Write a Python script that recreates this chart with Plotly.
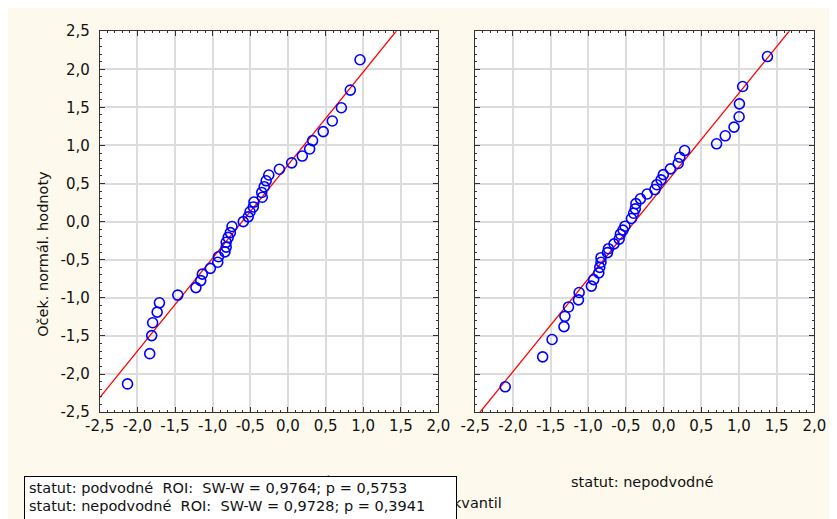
import plotly.graph_objects as go

# ---------------- data ----------------
left_obs = [0.958, 0.829, 0.710, 0.590, 0.469, 0.328, 0.289, 0.191, 0.050, -0.113,
            -0.254, -0.289, -0.315, -0.348, -0.341, -0.451, -0.460, -0.503, -0.528, -0.593,
            -0.743, -0.765, -0.794, -0.820, -0.820, -0.837, -0.923, -0.932, -1.030, -1.137,
            -1.158, -1.222, -1.463, -1.707, -1.737, -1.797, -1.810, -1.836, -2.131]
left_exp = [2.125, 1.727, 1.495, 1.321, 1.182, 1.064, 0.954, 0.861, 0.772, 0.688,
            0.612, 0.536, 0.459, 0.383, 0.320, 0.257, 0.193, 0.130, 0.063, 0.000,
            -0.064, -0.144, -0.207, -0.271, -0.334, -0.397, -0.461, -0.533, -0.613, -0.689,
            -0.774, -0.866, -0.964, -1.065, -1.188, -1.327, -1.496, -1.733, -2.130]

right_obs = [1.378, 1.049, 1.006, 1.002, 0.934, 0.818, 0.703, 0.279, 0.215, 0.193,
             0.090, -0.004, -0.034, -0.090, -0.115, -0.218, -0.308, -0.368, -0.376, -0.398,
             -0.427, -0.513, -0.539, -0.574, -0.590, -0.658, -0.732, -0.745, -0.831, -0.831,
             -0.847, -0.860, -0.928, -0.959, -1.121, -1.130, -1.262, -1.310, -1.322, -1.480,
             -1.605, -2.102]
right_exp = [2.167, 1.774, 1.546, 1.377, 1.241, 1.127, 1.022, 0.933, 0.845, 0.764,
             0.693, 0.617, 0.548, 0.485, 0.421, 0.363, 0.300, 0.236, 0.168, 0.110,
             0.041, -0.060, -0.111, -0.165, -0.229, -0.292, -0.355, -0.406, -0.473, -0.533,
             -0.600, -0.672, -0.761, -0.846, -0.930, -1.027, -1.120, -1.243, -1.378, -1.547,
             -1.775, -2.168]

# fitted reference lines: expected = intercept + slope * observed
left_fit = {"intercept": 0.743, "slope": 1.221}
right_fit = {"intercept": 0.469, "slope": 1.219}

tick_vals = [-2.5, -2.0, -1.5, -1.0, -0.5, 0.0, 0.5, 1.0, 1.5, 2.0, 2.5]
tick_text = ["-2,5", "-2,0", "-1,5", "-1,0", "-0,5", "0,0", "0,5", "1,0", "1,5", "2,0", "2,5"]
x_range = [-2.5, 2.0]
y_range = [-2.5, 2.5]

panel_titles = ["statut: podvodné", "statut: nepodvodné"]
x_title = "Pozorovaný kvantil"
y_title = "Oček. normál. hodnoty"
stats_lines = ["statut: podvodné  ROI:  SW-W = 0,9764; p = 0,5753",
               "statut: nepodvodné  ROI:  SW-W = 0,9728; p = 0,3941"]

# ---------------- layout helpers ----------------
W, H = 837, 519
FONT = "DejaVu Sans"
FS = 14.5
TFS = 15


def fx(p):
    return p / W


def fy(p):
    return 1 - p / H


fig = go.Figure()

marker = dict(symbol="circle-open", size=10, color="#0000FF", line=dict(width=1.6, color="#0000FF"))

for obs, exp, fit, xa, ya in [(left_obs, left_exp, left_fit, "x", "y"),
                              (right_obs, right_exp, right_fit, "x2", "y2")]:
    fig.add_trace(go.Scatter(x=x_range, y=[fit["intercept"] + fit["slope"] * v for v in x_range],
                             mode="lines", line=dict(color="#FF0000", width=1.3),
                             xaxis=xa, yaxis=ya, showlegend=False, hoverinfo="skip"))
    fig.add_trace(go.Scatter(x=obs, y=exp, mode="markers", marker=marker,
                             xaxis=xa, yaxis=ya, showlegend=False, cliponaxis=False))

axis_common = dict(
    tickmode="array", tickvals=tick_vals, ticktext=tick_text,
    showgrid=True, gridcolor="#DCDCDC", gridwidth=1.5, zeroline=False,
    showline=True, linecolor="#333333", linewidth=1, mirror="allticks",
    ticks="inside", ticklen=5, tickcolor="#333333", tickwidth=1,
    minor=dict(dtick=0.1, tick0=0, ticks="inside", ticklen=2, tickcolor="#333333", showgrid=False),
    tickfont=dict(family=FONT, size=TFS, color="#111111"),
    fixedrange=True,
)

ydom = [fy(409.3), fy(14.7)]
fig.update_layout(
    width=W, height=H,
    margin=dict(l=0, r=0, t=0, b=0),
    paper_bgcolor="#FDF9EC",
    plot_bgcolor="#FFFFFF",
    showlegend=False,
    font=dict(family=FONT, size=FS, color="#111111"),
    xaxis=dict(axis_common, domain=[fx(79.3), fx(429.3)], range=x_range, anchor="y"),
    yaxis=dict(axis_common, domain=ydom, range=y_range, anchor="x", ticklabelstandoff=6),
    xaxis2=dict(axis_common, domain=[fx(467.3), fx(817.7)], range=x_range, anchor="y2"),
    yaxis2=dict(axis_common, domain=ydom, range=y_range, anchor="x2", showticklabels=False),
)

ann = []
# panel titles (the left one sits behind the statistics box, as in the original)
ann.append(dict(x=fx(254), y=fy(482), xref="paper", yref="paper", text=panel_titles[0],
                showarrow=False, xanchor="center", yanchor="middle", font=dict(family=FONT, size=FS)))
ann.append(dict(x=fx(640), y=fy(482), xref="paper", yref="paper", text=panel_titles[1],
                showarrow=False, xanchor="center", yanchor="middle", font=dict(family=FONT, size=FS)))
# x axis title (partly covered by the statistics box, as in the original)
ann.append(dict(x=fx(424), y=fy(503), xref="paper", yref="paper", text=x_title,
                showarrow=False, xanchor="center", yanchor="middle", font=dict(family=FONT, size=FS)))
# y axis title
ann.append(dict(x=fx(20), y=fy(245), xref="paper", yref="paper", text=y_title, textangle=-90,
                showarrow=False, xanchor="center", yanchor="middle", font=dict(family=FONT, size=FS)))
# statistics box
ann.append(dict(x=fx(1), y=fy(475), xref="paper", yref="paper", text=" ", width=431, height=60,
                showarrow=False, xanchor="left", yanchor="top", bgcolor="#FFFFFF",
                bordercolor="#000000", borderwidth=1, borderpad=0))
ann.append(dict(x=fx(4), y=fy(488), xref="paper", yref="paper", text=stats_lines[0],
                showarrow=False, xanchor="left", yanchor="middle", font=dict(family=FONT, size=FS)))
ann.append(dict(x=fx(4), y=fy(507), xref="paper", yref="paper", text=stats_lines[1],
                showarrow=False, xanchor="left", yanchor="middle", font=dict(family=FONT, size=FS)))
fig.update_layout(annotations=ann)

fig.write_html("out.html")
